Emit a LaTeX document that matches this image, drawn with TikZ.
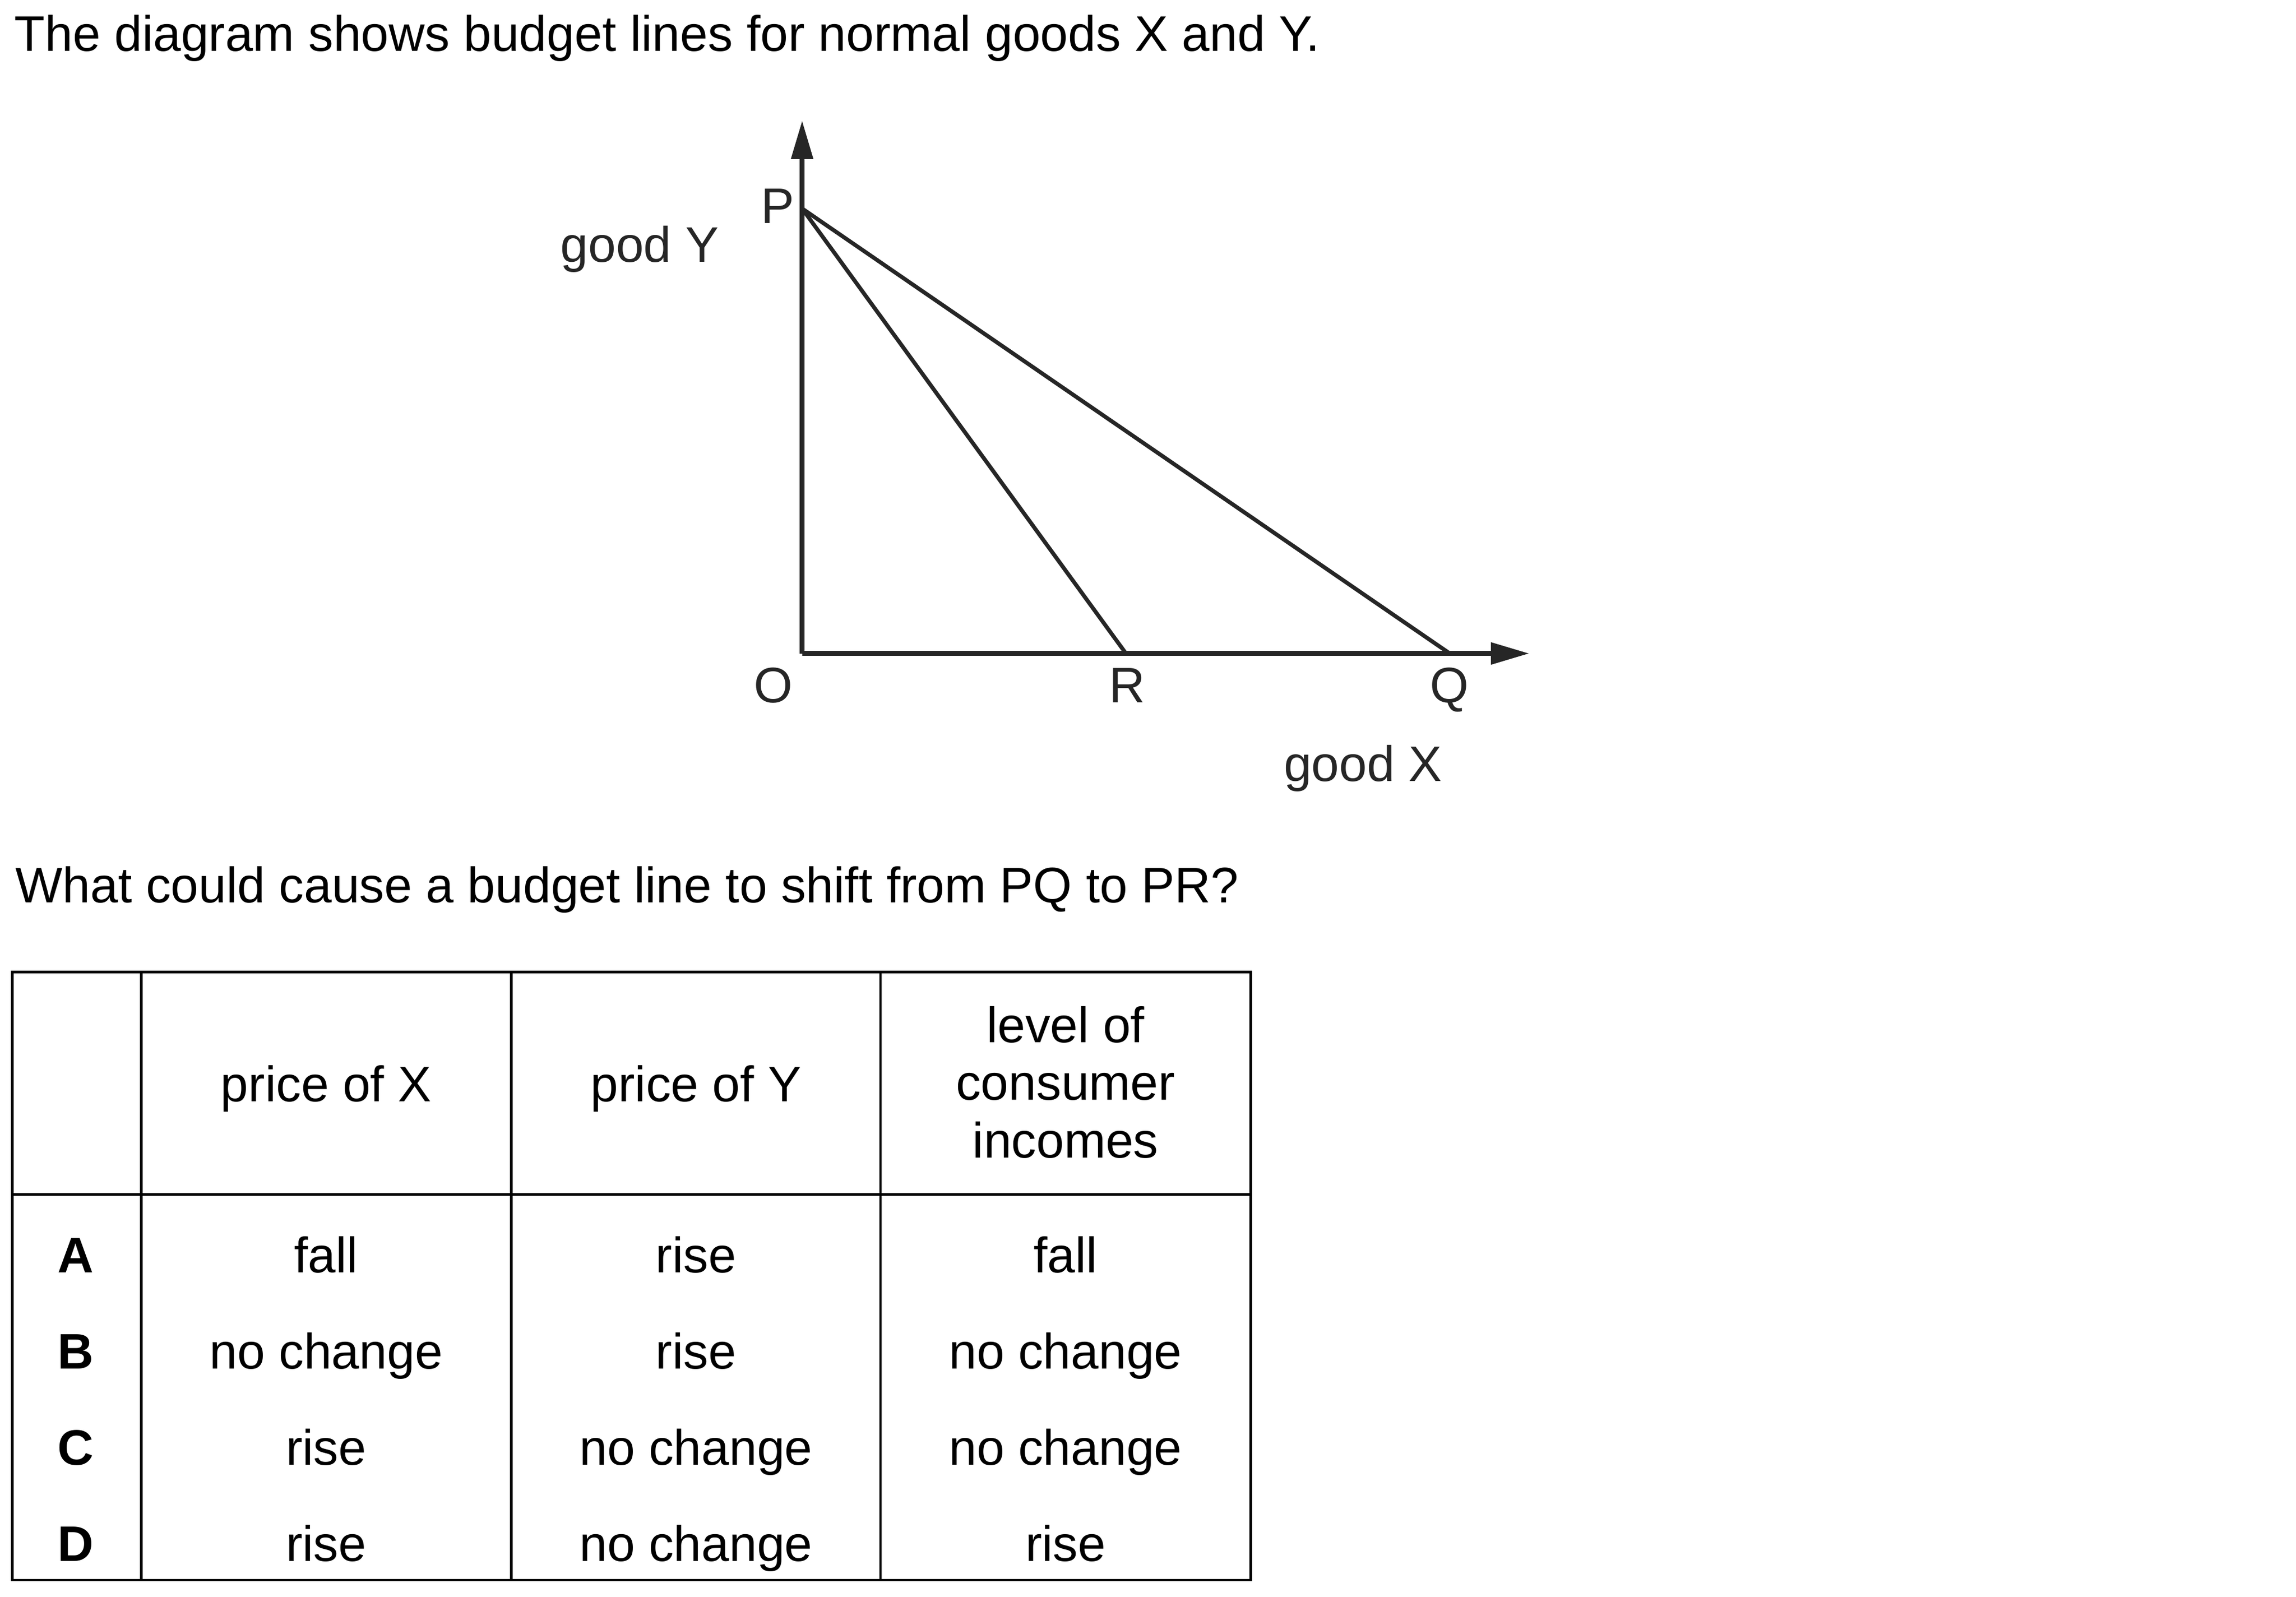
\documentclass[tikz,border=0pt]{standalone}
\usepackage{fontspec}
\setmainfont{Liberation Sans}
\usetikzlibrary{arrows.meta}

\definecolor{graphgray}{gray}{0.15}
\newcommand{\qsize}{\fontsize{16.95}{19.6}\selectfont}

\begin{document}
\begin{tikzpicture}[x=0.5pt, y=-0.5pt, every node/.style={inner sep=0pt, font=\qsize},
    txt/.style={anchor=base west},
    lbl/.style={anchor=base, text=graphgray},
    cell/.style={anchor=base},
    keycell/.style={anchor=base, font=\qsize\bfseries},
    axis/.style={graphgray, line width=1.55pt, -{Triangle[length=13pt, width=7.2pt]}},
    budget/.style={graphgray, line width=1.35pt},
    tableline/.style={line width=0.85pt}]
    \useasboundingbox (0, 0) rectangle (1560, 1084.7);

    \node (title) [txt, at={(9.5, 34.9)}] {The diagram shows budget lines for normal goods X and Y.};

    % budget lines
    \coordinate (o) at (545, 444);
    \coordinate (p) at (545, 141.7);
    \coordinate (r) at (765, 444);
    \coordinate (q) at (985, 444);
    \coordinate (ytip) at (545, 82);
    \coordinate (xtip) at (1039, 444);
    \draw [axis] (o) -- (ytip);
    \draw [axis] (o) -- (xtip);
    \draw [budget] (p) -- (q);
    \draw [budget] (p) -- (r);

    \node (p-lbl) [lbl, at={(528.5, 151.6)}] {P};
    \node (goody) [lbl, at={(434.6, 177.9)}] {good Y};
    \node (o-lbl) [lbl, at={(525.4, 477.5)}] {O};
    \node (r-lbl) [lbl, at={(765.7, 477.5)}] {R};
    \node (q-lbl) [lbl, at={(984.8, 477.5)}] {Q};
    \node (goodx) [lbl, at={(926, 531)}] {good X};

    \node (question) [txt, at={(10.3, 613.3)}] {What could cause a budget line to shift from PQ to PR?};

    % table
    \draw [tableline] (8.3, 660.4) rectangle (849.7, 1073.5);
    \draw [tableline] (8.3, 811.5) -- (849.7, 811.5);
    \foreach \cx in {95.9, 347.4, 598.3}
        \draw [tableline] (\cx, 660.4) -- (\cx, 1073.5);

    \node (hd-x) [cell, at={(221.6, 748.6)}] {price of X};
    \node (hd-y) [cell, at={(472.9, 748.6)}] {price of Y};
    \node (hd-inc) [align=center, at={(724, 735.3)}] {level of\\consumer\\incomes};

    \foreach \key/\px/\py/\inc [count=\i] in {A/fall/rise/fall, B/no change/rise/no change, C/rise/no change/no change, D/rise/no change/rise} {
        \pgfmathsetmacro\yb{864.5 + (\i - 1) * 65.47}
        \node (key-\key) [keycell, at={(51.6, \yb)}] {\key};
        \node (px-\key) [cell, at={(221.6, \yb)}] {\px};
        \node (py-\key) [cell, at={(472.9, \yb)}] {\py};
        \node (inc-\key) [cell, at={(724, \yb)}] {\inc};
    }
\end{tikzpicture}
\end{document}
